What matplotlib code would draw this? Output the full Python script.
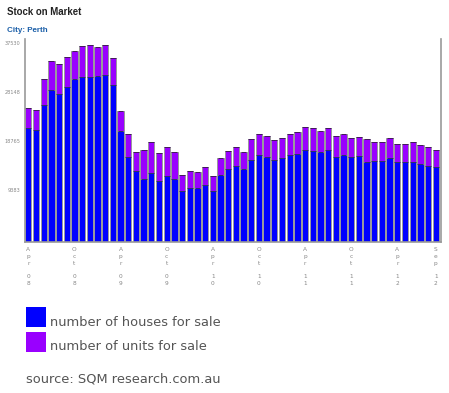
import matplotlib
matplotlib.use("Agg")
import matplotlib.pyplot as plt
import numpy as np
from matplotlib.patches import Rectangle

# Monthly data Apr 2008 .. Sep 2012
totals = [25725, 25278, 31150, 34662, 34023, 35364, 36513, 37534, 37662, 37406,
          37662, 35236, 25150, 20618, 17235, 17618, 19086, 16980, 18129, 17235,
          12767, 13597, 13341, 14426, 12639, 16022, 17363, 18129, 17235, 19725,
          20746, 20363, 19469, 19980, 20746, 21001, 21959, 21831, 21257, 21831,
          20235, 20618, 19980, 20108, 19725, 19214, 19214, 19980, 18831, 18831,
          19086, 18512, 18129, 17618]
houses = [21767, 21512, 26236, 29044, 28405, 29683, 31215, 31534, 31661, 31852,
          32044, 30066, 21257, 16278, 13533, 12128, 13150, 11682, 12575, 12128,
          9767, 10341, 10277, 10979, 9767, 12767, 13916, 14490, 13916, 15767,
          16661, 16341, 15703, 16086, 16661, 16852, 17618, 17491, 17171, 17618,
          16341, 16661, 16278, 16405, 15384, 15512, 15512, 16150, 15256, 15256,
          15320, 14873, 14618, 14363]
units = [t - h for t, h in zip(totals, houses)]

tick_index = [0, 6, 12, 18, 24, 30, 36, 42, 48, 53]
tick_month = ["Apr", "Oct", "Apr", "Oct", "Apr", "Oct", "Apr", "Oct", "Apr", "Sep"]
tick_year = ["08", "08", "09", "09", "10", "10", "11", "11", "12", "12"]
y_ticks = [9383, 18765, 28148, 37530]

title = "Stock on Market"
subtitle = "City: Perth"
legend_labels = ["number of houses for sale", "number of units for sale"]
source = "source: SQM research.com.au"

c_house = "#0000FF"
c_unit = "#9900FF"
W, H = 449, 393
fig = plt.figure(figsize=(W / 100, H / 100), dpi=100)

def fx(px):
    return px / W

def fy(py):
    return 1 - py / H

ax = fig.add_axes([fx(25), fy(242), fx(441) - fx(25), fy(39) - fy(242)])
x = np.arange(len(houses))
ax.bar(x, houses, width=0.82, color=c_house, edgecolor="#9a9a9a", linewidth=0.7)
ax.bar(x, units, bottom=houses, width=0.82, color=c_unit, edgecolor="#9a9a9a", linewidth=0.7)
# dark separator lines at the top of each segment
ax.hlines(houses, x - 0.38, x + 0.38, color="#1a1a66", linewidth=0.6)
ax.hlines(totals, x - 0.38, x + 0.38, color="#330055", linewidth=0.6)
ax.set_xlim(-0.43, 53.68)
ax.set_ylim(0, 38870)

ax.spines["top"].set_visible(False)
for s in ["left", "right", "bottom"]:
    ax.spines[s].set_color("#999999")
    ax.spines[s].set_linewidth(1.2)

ax.set_yticks(y_ticks)
ax.set_yticklabels([str(v) for v in y_ticks], fontsize=3.6, color="#888888")
ax.tick_params(axis="y", length=0, pad=3)
for lbl in ax.get_yticklabels():
    lbl.set_verticalalignment("bottom")

ax.set_xticks([])
for i, m, yv in zip(tick_index, tick_month, tick_year):
    txt = "\n".join(list(m)) + "\n\n" + "\n".join(list(yv))
    ax.text(i, -0.025, txt, transform=ax.get_xaxis_transform(), ha="center", va="top",
            fontsize=4.2, color="#888888", linespacing=1.45)

fig.text(fx(7), fy(12), title, fontsize=6.9, fontweight="bold", color="#222222",
         family="Liberation Sans", ha="left", va="center")
fig.text(fx(7), fy(30), subtitle, fontsize=5.8, fontweight="bold", color="#1a5ea8",
         family="Liberation Sans", ha="left", va="center")

for (yt, col, lab) in [(307, c_house, legend_labels[0]), (332, c_unit, legend_labels[1])]:
    fig.patches.append(Rectangle((fx(26), fy(yt + 20)), fx(20), fy(yt) - fy(yt + 20),
                                 transform=fig.transFigure, facecolor=col, edgecolor="none"))
    fig.text(fx(50), fy(yt + 15), lab, fontsize=9.4, color="#555555", ha="left", va="center")

fig.text(fx(26), fy(379), source, fontsize=9.4, color="#555555", ha="left", va="center")

fig.savefig("out.png", dpi=100)
